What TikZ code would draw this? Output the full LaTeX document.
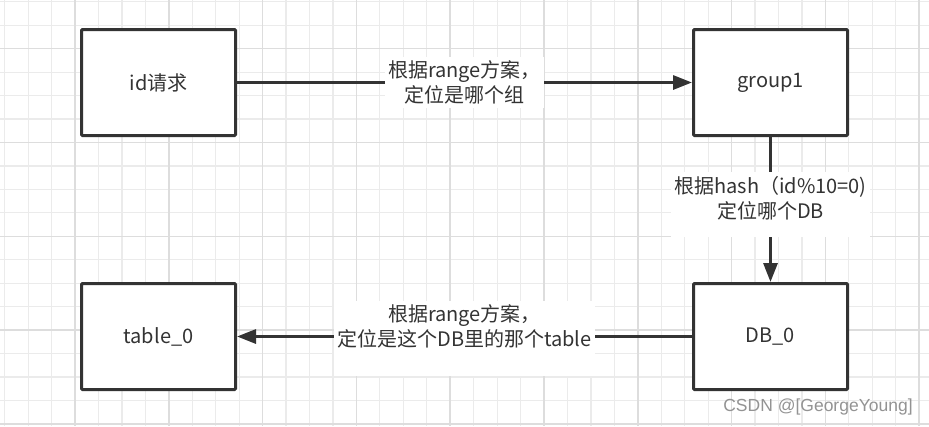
\documentclass[tikz,border=0pt]{standalone}
\usepackage{fontspec}
\setmainfont{Noto Sans CJK SC}
\newfontfamily\markfont{Liberation Sans}
\usetikzlibrary{arrows.meta}
\definecolor{ink}{HTML}{333333}
\definecolor{gridlo}{HTML}{EBEBEB}
\definecolor{gridhi}{HTML}{DDDDDD}

\begin{document}
\begin{tikzpicture}[x=1pt, y=-1pt, >={Triangle[length=19pt,width=14pt]},
        box/.style={draw=ink, line width=3pt, rounded corners=1pt, fill=white, minimum width=154pt, minimum height=106pt, inner sep=0pt, font=\fontsize{20}{25}\selectfont, text=ink},
        conn/.style={draw=ink, line width=3pt},
        lbl/.style={fill=white, align=center, inner xsep=3pt, inner ysep=4pt, font=\fontsize{20}{25}\selectfont, text=ink}]
        \def\gap{23.45}
        \def\gx{75}
        \def\gy{142.5}

        \useasboundingbox (0,0) rectangle (929,426);
        \fill[white] (0,0) rectangle (929,426);
        \foreach \k in {-3,...,36} \draw[gridlo, line width=1.2pt] ({\gx+\gap*\k},0) -- ({\gx+\gap*\k},426);
        \foreach \k in {-6,...,12} \draw[gridlo, line width=1.2pt] (0,{\gy+\gap*\k}) -- (929,{\gy+\gap*\k});
        \foreach \k in {0,4,...,36} \draw[gridhi, line width=1.5pt] ({\gx+\gap*\k},0) -- ({\gx+\gap*\k},426);
        \foreach \k in {-4,0,...,12} \draw[gridhi, line width=1.5pt] (0,{\gy+\gap*\k}) -- (929,{\gy+\gap*\k});

        \node[box] (req) at (158.5,82.5) {id请求};
        \node[box] (grp) at (770.5,82.5) {group1};
        \node[box] (db) at (770.5,336.5) {DB\_0};
        \node[box] (tbl) at (158.5,336.5) {table\_0};

        \draw[conn, ->] (req) -- (grp) node[lbl, midway] {根据range方案，\\定位是哪个组};
        \draw[conn, ->] (grp) -- (db) node[lbl, midway, yshift=5pt, text depth=14pt] {根据hash（id\%10=0)\\定位哪个DB};
        \draw[conn, ->] (db) -- (tbl) node[lbl, midway, yshift=-2pt, text depth=26pt] {根据range方案，\\定位是这个DB里的那个table};

        \node[text=gray!85, font=\markfont\fontsize{17.5}{20}\selectfont, inner sep=0pt] (mark) at (818,407) {CSDN @[GeorgeYoung]};
    \end{tikzpicture}
\end{document}
